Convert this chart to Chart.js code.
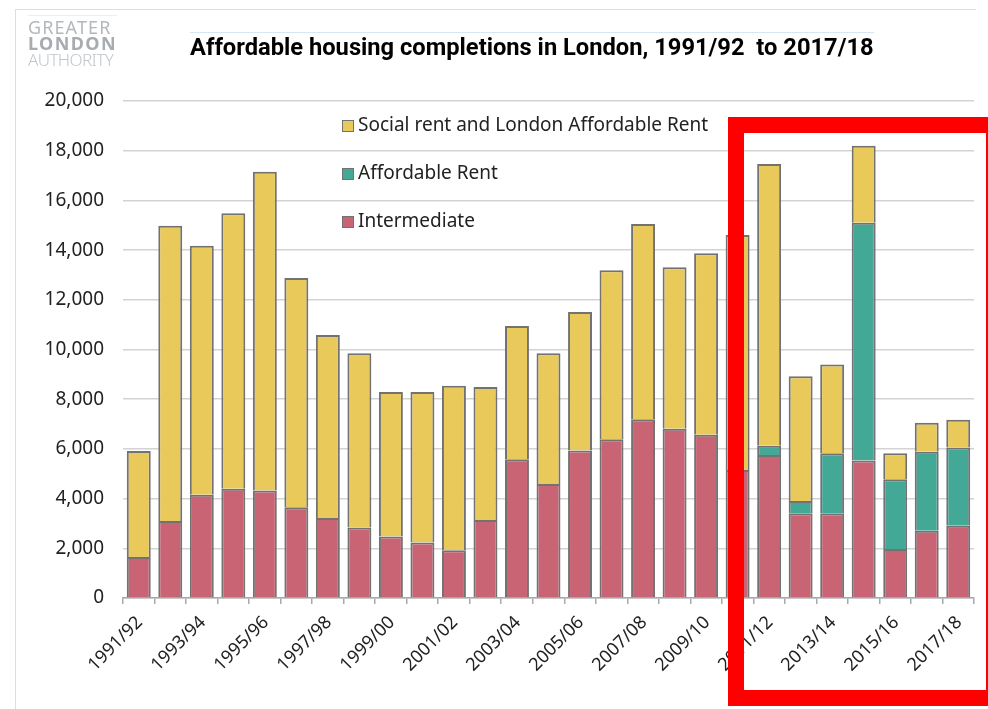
<!DOCTYPE html>
<html>
<head>
<meta charset="utf-8">
<script src="https://cdn.jsdelivr.net/npm/chart.js@4.4.1/dist/chart.umd.min.js"></script>
<style>
    html, body { margin: 0; padding: 0; background: #fff; }
    #wrap { position: relative; width: 988px; height: 709px; overflow: hidden; }
    #frame { position: absolute; left: 15px; top: 9px; width: 960px; height: 720px; border-left: 1px solid #dedede; border-top: 1px solid #dedede; }
    #logo { position: absolute; left: 28px; top: 15px; font-family: "Noto Sans", sans-serif; font-size: 18px; line-height: 16px; color: #b3b8bc; letter-spacing: 1.1px; border-top: 1px solid #eceff1; padding-top: 3px; }
    #logo .b { font-weight: 700; color: #a6acb1; letter-spacing: 1.4px; }
    #logo .l { font-weight: 300; color: #c2c6ca; letter-spacing: -0.6px; font-size: 17px; }
    #title { position: absolute; left: 190px; top: 32px; font-family: Roboto, "Noto Sans", sans-serif; font-weight: 700; font-size: 23.7px; line-height: 28px; color: #000; white-space: nowrap; border-top: 1px solid #d6e6f5; }
    #highlight { position: absolute; left: 728px; top: 117px; width: 274px; height: 589px; box-sizing: border-box; border: 16px solid #ff0000; }
    canvas { position: absolute; left: 0; top: 0; }
</style>
</head>
<body>
<div id="wrap">
    <div id="frame"></div>
    <canvas id="chart" width="988" height="709"></canvas>
    <div id="logo">GREATER<br><span class="b">LONDON</span><br><span class="l">AUTHORITY</span></div>
    <div id="title">Affordable housing completions in London, 1991/92&nbsp; to 2017/18</div>
    <div id="highlight"></div>
</div>
<script>
// Data
const years = ['1991/92', '1992/93', '1993/94', '1994/95', '1995/96', '1996/97', '1997/98', '1998/99', '1999/00',
    '2000/01', '2001/02', '2002/03', '2003/04', '2004/05', '2005/06', '2006/07', '2007/08', '2008/09', '2009/10',
    '2010/11', '2011/12', '2012/13', '2013/14', '2014/15', '2015/16', '2016/17', '2017/18'];

const intermediate = [1650, 3100, 4150, 4400, 4330, 3650, 3220, 2840, 2470, 2230, 1920, 3140, 5580, 4590,
    5940, 6390, 7190, 6810, 6570, 5150, 5750, 3410, 3410, 5530, 1970, 2710, 2910];

const affordableRent = [0, 0, 0, 0, 0, 0, 0, 0, 0, 0, 0, 0, 0, 0,
    0, 0, 0, 0, 0, 0, 380, 490, 2410, 9570, 2805, 3180, 3150];

const socialRent = [4265, 11880, 10030, 11080, 12825, 9230, 7360, 7010, 5820, 6060, 6620, 5350, 5365, 5260,
    5570, 6800, 7860, 6500, 7300, 9460, 11335, 5020, 3580, 3100, 1045, 1165, 1115];

const yTicks = [0, 2000, 4000, 6000, 8000, 10000, 12000, 14000, 16000, 18000, 20000];

const colors = {
    social: '#e8c959',
    affordable: '#44a897',
    intermediate: '#c96474',
    border: '#727272'
};

// Legend drawn inside the plot, stacked vertically (top series first)
const insideLegend = {
    id: 'insideLegend',
    afterDraw(chart) {
        const ctx = chart.ctx;
        const items = chart.data.datasets.slice().reverse();
        ctx.save();
        ctx.font = '19px "Noto Sans", sans-serif';
        ctx.textBaseline = 'middle';
        items.forEach((ds, i) => {
            const y = 126 + i * 48;
            ctx.fillStyle = ds.backgroundColor;
            ctx.fillRect(342, y - 6, 12, 12);
            ctx.strokeStyle = colors.border;
            ctx.lineWidth = 1;
            ctx.strokeRect(342.5, y - 5.5, 11, 11);
            ctx.fillStyle = '#222';
            ctx.fillText(ds.label, 358, y);
        });
        ctx.restore();
    }
};

const barStyle = { borderColor: colors.border, borderWidth: 2, barPercentage: 0.76, categoryPercentage: 1 };

new Chart(document.getElementById('chart'), {
    type: 'bar',
    data: {
        labels: years,
        datasets: [
            { label: 'Intermediate', data: intermediate, backgroundColor: colors.intermediate, ...barStyle },
            { label: 'Affordable Rent', data: affordableRent, backgroundColor: colors.affordable, ...barStyle },
            { label: 'Social rent and London Affordable Rent', data: socialRent, backgroundColor: colors.social, ...barStyle }
        ]
    },
    options: {
        responsive: false,
        animation: false,
        layout: { padding: { top: 101, right: 14, left: 0, bottom: 0 } },
        plugins: { legend: { display: false }, tooltip: { enabled: false } },
        scales: {
            x: {
                stacked: true,
                afterFit: s => { s.height = 111; },
                grid: { drawOnChartArea: false, drawTicks: true, tickLength: 6, color: '#a8a8a8', lineWidth: 1.5, offset: true },
                border: { color: '#a8a8a8', width: 1.5 },
                ticks: {
                    autoSkip: false,
                    minRotation: 45,
                    maxRotation: 45,
                    padding: 8,
                    labelOffset: 1,
                    color: '#222',
                    font: { family: '"Noto Sans", sans-serif', size: 18 },
                    callback: function (v, i) { return i % 2 === 0 ? this.getLabelForValue(v) : ''; }
                }
            },
            y: {
                stacked: true,
                min: 0,
                max: 20000,
                afterFit: s => { s.width = 123; },
                afterBuildTicks: s => { s.ticks = yTicks.map(v => ({ value: v })); },
                grid: { color: '#d3d3d3', lineWidth: 1.5, drawTicks: false },
                border: { display: false },
                ticks: {
                    padding: 19,
                    color: '#222',
                    font: { family: '"Noto Sans", sans-serif', size: 19 },
                    callback: v => v.toLocaleString('en-GB')
                }
            }
        }
    },
    plugins: [insideLegend]
});
</script>
</body>
</html>
